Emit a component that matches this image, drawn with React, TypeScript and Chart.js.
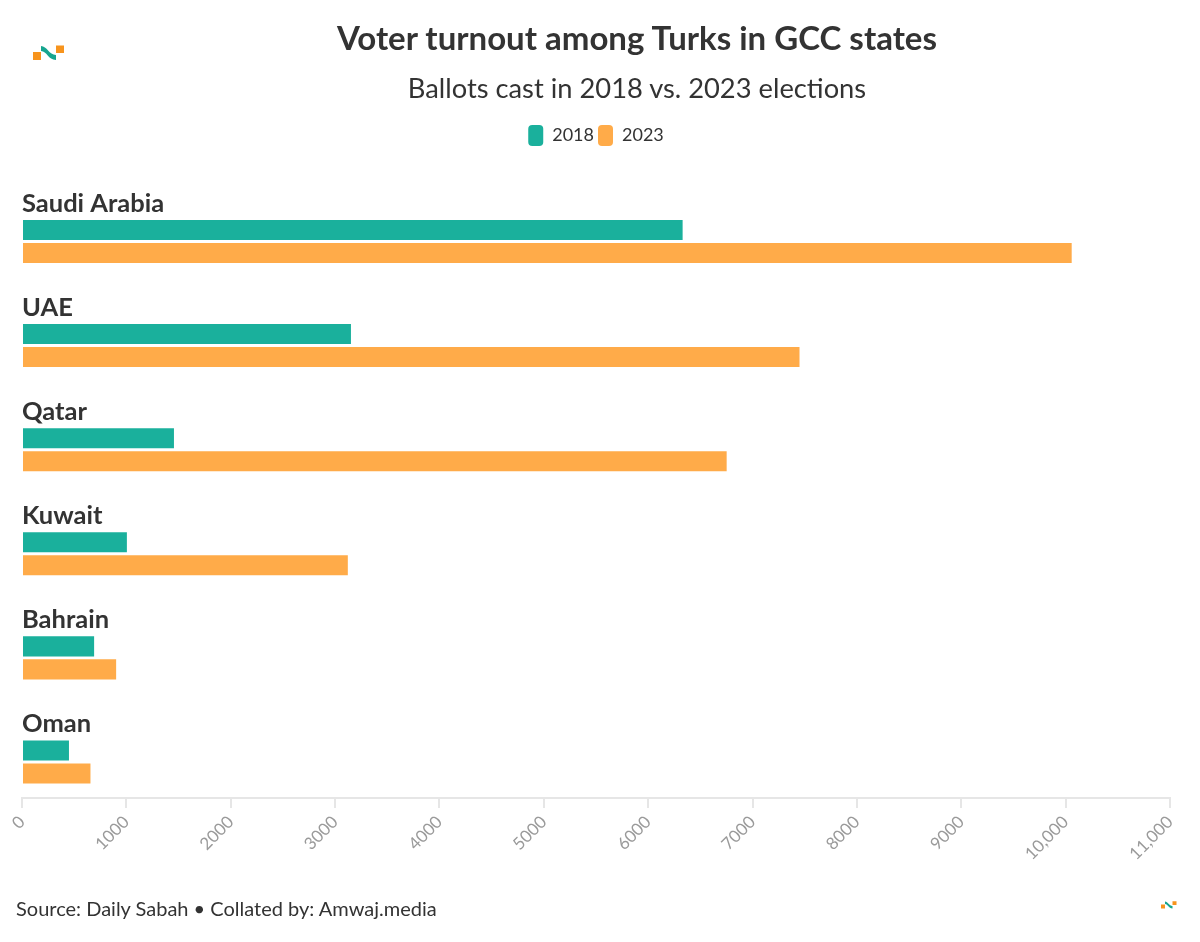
import React, { useEffect, useRef } from "react";
import { Chart, registerables } from "chart.js";

Chart.register(...registerables);

const categories = ["Saudi Arabia", "UAE", "Qatar", "Kuwait", "Bahrain", "Oman"];
const seriesNames = ["2018", "2023"];
const ballots2018 = [6330, 3152, 1456, 1005, 691, 450];
const ballots2023 = [10058, 7450, 6752, 3122, 902, 656];
const xTicksMax = 11000;
const xTickStep = 1000;

const TEAL = "#1ab09c";
const ORANGE = "#ffab49";
const FONT = "Lato, 'Noto Sans', sans-serif";

const categoryLabelPlugin = {
  id: "categoryLabels",
  afterDatasetsDraw(chart: any) {
    const { ctx, chartArea, scales } = chart;
    const y = scales.y;
    ctx.save();
    ctx.font = `bold 25.5px ${FONT}`;
    ctx.fillStyle = "#333333";
    ctx.textAlign = "left";
    ctx.textBaseline = "middle";
    categories.forEach((c, i) => {
      ctx.fillText(c, chartArea.left, y.getPixelForValue(i) - 38);
    });
    ctx.restore();
  },
};

function Logo({ x, y, s }: { x: number; y: number; s: number }) {
  return (
    <svg
      style={{ position: "absolute", left: x, top: y }}
      width={31 * s}
      height={16 * s}
      viewBox="0 0 31 16"
    >
      <rect x="0" y="7" width="8" height="8" fill="#f7941d" />
      <path d="M8 1 C14 1 16 10 23 10 L23 15 C15 15 14 6 8 6 Z" fill="#16a58f" />
      <rect x="23" y="0.5" width="8" height="7.5" fill="#f7941d" />
    </svg>
  );
}

export default function App() {
  const canvasRef = useRef<HTMLCanvasElement | null>(null);

  useEffect(() => {
    if (!canvasRef.current) return;
    const toPoints = (vals: number[]) => vals.map((v, i) => ({ x: v, y: i }));
    const chart = new Chart(canvasRef.current, {
      type: "bar",
      data: {
        datasets: [
          {
            label: seriesNames[0],
            data: toPoints(ballots2018),
            backgroundColor: TEAL,
            borderWidth: 0,
          },
          {
            label: seriesNames[1],
            data: toPoints(ballots2023),
            backgroundColor: ORANGE,
            borderWidth: 0,
          },
        ],
      },
      options: {
        indexAxis: "y",
        responsive: false,
        animation: false,
        maintainAspectRatio: false,
        layout: { padding: { left: 22, right: 30, top: 121, bottom: 54 } },
        datasets: {
          bar: { categoryPercentage: 0.442, barPercentage: 0.87 },
        },
        scales: {
          y: {
            type: "linear",
            reverse: true,
            bounds: "data",
            offset: false,
            grace: 0,
            min: -0.821,
            max: 5.346,
            display: false,
            grid: { offset: false },
            afterBuildTicks: (scale: any) => {
              scale.ticks = categories.map((_, i) => ({ value: i }));
            },
          },
          x: {
            type: "linear",
            min: 0,
            max: xTicksMax,
            afterFit: (scale: any) => {
              scale.height = 90;
            },
            ticks: {
              stepSize: xTickStep,
              minRotation: 45,
              maxRotation: 45,
              padding: 4,
              color: "#9a9a9a",
              font: { family: FONT, size: 17 },
              callback: (v: any) => {
                const n = Number(v);
                return n >= 10000 ? n.toLocaleString("en-US") : String(n);
              },
            },
            grid: {
              drawOnChartArea: false,
              drawTicks: true,
              tickLength: 10,
              color: "#e6e6e6",
              lineWidth: 2,
            },
            border: { display: true, color: "#e6e6e6", width: 2 },
          },
        },
        plugins: {
          legend: {
            display: true,
            position: "top",
            labels: {
              boxWidth: 15,
              boxHeight: 21,
              useBorderRadius: true,
              borderRadius: 4,
              padding: 4,
              color: "#333333",
              font: { family: FONT, size: 18 },
            },
          },
          tooltip: { enabled: false },
          title: { display: false },
        },
      },
      plugins: [categoryLabelPlugin],
    });
    return () => chart.destroy();
  }, []);

  return (
    <div
      style={{
        position: "absolute",
        left: 0,
        top: 0,
        width: 1200,
        height: 942,
        background: "#ffffff",
        fontFamily: FONT,
        overflow: "hidden",
      }}
    >
      <canvas
        ref={canvasRef}
        width={1200}
        height={942}
        style={{ position: "absolute", left: 0, top: 0, width: 1200, height: 942 }}
      />
      <Logo x={33} y={45} s={1} />
      <div
        style={{
          position: "absolute",
          left: 74,
          width: 1126,
          top: 18,
          lineHeight: "38px",
          fontSize: 33,
          fontWeight: 700,
          color: "#333333",
          textAlign: "center",
        }}
      >
        Voter turnout among Turks in GCC states
      </div>
      <div
        style={{
          position: "absolute",
          left: 74,
          width: 1126,
          top: 71,
          lineHeight: "34px",
          fontSize: 27.3,
          color: "#333333",
          textAlign: "center",
        }}
      >
        Ballots cast in 2018 vs. 2023 elections
      </div>
      <div
        style={{
          position: "absolute",
          left: 16,
          top: 895,
          lineHeight: "26px",
          fontSize: 20,
          color: "#333333",
        }}
      >
        Source: Daily Sabah • Collated by: Amwaj.media
      </div>
      <Logo x={1161} y={901} s={0.5} />
    </div>
  );
}
